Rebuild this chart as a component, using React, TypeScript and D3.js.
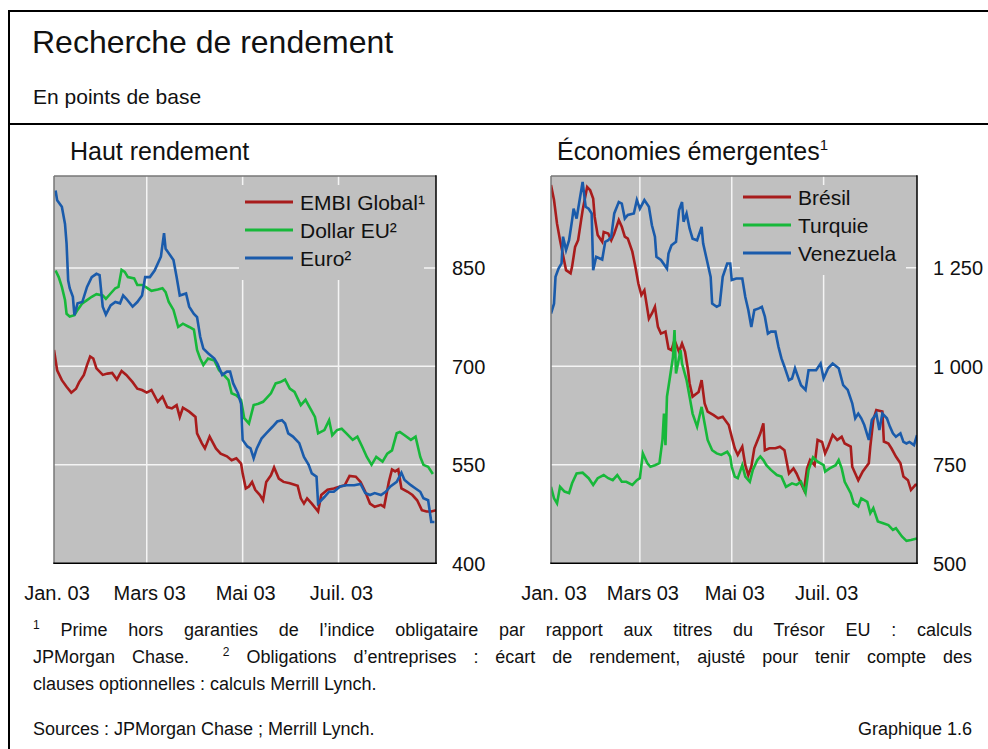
import { useEffect, useRef } from 'react';
import * as d3 from 'd3';

// [jours depuis le 1er janv. 2003, points de base]
type Pt = [number, number];

const embiGlobal: Pt[] = [
  [0, 725], [2, 694], [5, 679], [8, 669], [11, 660], [14, 666], [16, 676], [19, 687], [21, 702], [23, 715],
  [25, 712], [27, 697], [31, 687], [34, 689], [37, 690], [40, 680], [43, 693], [46, 687], [50, 676], [53, 666],
  [56, 664], [59, 660], [62, 664], [66, 646], [69, 654], [72, 638], [75, 636], [78, 641], [80, 623], [82, 637],
  [86, 631], [90, 623], [91, 598], [94, 583], [96, 575], [99, 593], [103, 575], [106, 567], [110, 563], [113, 557],
  [116, 560], [119, 552], [120, 537], [122, 514], [124, 517], [126, 524], [128, 512], [131, 504], [133, 496], [135, 524],
  [138, 534], [140, 546], [143, 529], [146, 524], [150, 522], [155, 518], [157, 499], [159, 491], [161, 499], [164, 491],
  [168, 479], [170, 504], [174, 512], [178, 514], [182, 517], [185, 519], [188, 533], [192, 532], [195, 524], [198, 509],
  [201, 491], [204, 486], [208, 489], [210, 486], [213, 524], [215, 543], [217, 540], [219, 543], [221, 514], [225, 509],
  [228, 504], [231, 496], [234, 481], [237, 479], [240, 479], [243, 481],
];

const dollarEU: Pt[] = [
  [1, 846], [3, 836], [5, 821], [7, 801], [8, 780], [10, 776], [13, 778], [15, 786], [18, 796], [21, 801],
  [24, 806], [27, 810], [31, 808], [33, 803], [36, 811], [39, 819], [41, 821], [43, 847], [45, 844], [47, 836],
  [51, 834], [53, 824], [56, 824], [59, 820], [62, 815], [66, 817], [69, 819], [71, 813], [73, 798], [76, 786],
  [79, 760], [82, 765], [86, 760], [89, 756], [91, 725], [93, 712], [95, 702], [98, 712], [102, 709], [105, 694],
  [108, 687], [111, 679], [113, 659], [116, 656], [119, 649], [121, 621], [124, 613], [127, 641], [130, 643], [133, 646],
  [138, 659], [141, 674], [144, 676], [147, 680], [150, 666], [153, 661], [157, 641], [160, 649], [163, 636], [166, 623],
  [168, 598], [172, 603], [175, 618], [177, 595], [180, 603], [183, 605], [186, 598], [190, 588], [193, 593], [196, 578],
  [199, 562], [202, 550], [205, 562], [209, 555], [212, 567], [215, 572], [218, 598], [220, 600], [223, 595], [227, 588],
  [230, 593], [233, 562], [235, 550], [238, 547], [241, 536],
];

const euro: Pt[] = [
  [1, 968], [2, 953], [5, 943], [7, 917], [8, 887], [9, 831], [10, 819], [12, 806], [13, 778], [15, 796],
  [18, 798], [21, 821], [24, 836], [27, 841], [29, 839], [31, 791], [33, 779], [36, 793], [39, 798], [42, 796],
  [44, 808], [46, 803], [50, 791], [53, 798], [56, 808], [58, 836], [61, 836], [64, 846], [68, 867], [70, 903],
  [71, 879], [74, 869], [76, 862], [78, 836], [80, 808], [84, 811], [86, 791], [89, 780], [91, 775], [93, 745],
  [95, 727], [98, 720], [102, 712], [104, 704], [107, 687], [110, 692], [112, 692], [114, 674], [117, 659], [119, 643],
  [120, 588], [123, 578], [125, 575], [127, 560], [129, 575], [132, 590], [135, 598], [139, 608], [142, 616], [145, 618],
  [147, 613], [149, 598], [152, 593], [156, 583], [159, 562], [162, 550], [164, 537], [167, 532], [168, 491], [172, 501],
  [175, 509], [178, 509], [182, 517], [186, 519], [191, 519], [195, 521], [198, 507], [201, 504], [204, 507], [208, 504],
  [211, 509], [214, 517], [218, 524], [221, 538], [223, 527], [227, 519], [230, 514], [233, 509], [235, 499], [238, 496],
  [240, 463], [242, 463],
];

const bresil: Pt[] = [
  [0, 1460], [2, 1422], [4, 1362], [6, 1320], [8, 1282], [10, 1244], [13, 1236], [14, 1253], [16, 1303], [18, 1320],
  [20, 1371], [21, 1396], [24, 1455], [26, 1447], [28, 1426], [29, 1379], [31, 1333], [34, 1316], [35, 1341], [38, 1337],
  [40, 1320], [42, 1337], [45, 1371], [47, 1354], [49, 1329], [51, 1324], [54, 1291], [56, 1253], [58, 1210], [60, 1181],
  [62, 1193], [65, 1121], [67, 1134], [69, 1151], [71, 1100], [73, 1083], [76, 1088], [78, 1045], [80, 1041], [82, 1066],
  [85, 1037], [87, 1058], [89, 1037], [91, 990], [92, 957], [94, 923], [98, 935], [100, 965], [102, 906], [104, 885],
  [108, 876], [111, 868], [114, 872], [118, 851], [120, 821], [122, 792], [124, 775], [127, 796], [129, 749], [131, 724],
  [133, 745], [135, 792], [139, 830], [141, 855], [142, 787], [145, 792], [149, 792], [152, 796], [155, 787], [158, 728],
  [161, 741], [163, 728], [165, 711], [168, 686], [170, 741], [172, 762], [175, 749], [177, 813], [180, 808], [182, 779],
  [184, 796], [187, 826], [190, 813], [193, 821], [195, 804], [199, 796], [200, 745], [202, 728], [204, 711], [207, 733],
  [211, 754], [212, 796], [214, 864], [216, 889], [220, 885], [221, 809], [224, 804], [226, 792], [229, 771], [232, 754],
  [234, 720], [237, 711], [239, 686], [242, 699], [243, 699],
];

const turquie: Pt[] = [
  [0, 694], [2, 665], [4, 652], [6, 694], [9, 682], [12, 678], [14, 703], [17, 728], [21, 730], [25, 716],
  [28, 699], [31, 716], [35, 724], [38, 716], [41, 711], [44, 724], [47, 707], [50, 707], [54, 699], [57, 711],
  [59, 716], [61, 779], [64, 754], [66, 745], [69, 749], [72, 754], [74, 813], [75, 880], [76, 800], [77, 923],
  [79, 973], [81, 1024], [82, 1092], [83, 982], [86, 1041], [87, 1007], [90, 965], [92, 923], [94, 880], [97, 847],
  [99, 880], [100, 897], [102, 855], [104, 813], [107, 787], [110, 779], [113, 775], [117, 783], [119, 771], [120, 745],
  [122, 720], [124, 716], [127, 749], [129, 720], [132, 707], [134, 737], [137, 762], [139, 771], [141, 762], [143, 749],
  [146, 737], [150, 724], [153, 720], [156, 694], [160, 703], [163, 699], [166, 707], [169, 679], [171, 737], [174, 769],
  [177, 758], [181, 749], [182, 733], [185, 741], [189, 749], [191, 762], [193, 741], [195, 707], [199, 678], [201, 652],
  [204, 644], [206, 665], [210, 656], [212, 627], [214, 640], [217, 606], [221, 601], [224, 597], [227, 585], [229, 589],
  [233, 568], [236, 557], [239, 559], [243, 563],
];

const venezuela: Pt[] = [
  [0, 1134], [2, 1159], [3, 1227], [5, 1248], [7, 1261], [8, 1329], [10, 1295], [12, 1320], [14, 1371], [15, 1400],
  [17, 1375], [19, 1422], [21, 1468], [23, 1405], [25, 1400], [27, 1388], [28, 1244], [30, 1278], [34, 1271], [36, 1316],
  [38, 1320], [40, 1329], [42, 1388], [45, 1417], [47, 1413], [49, 1375], [51, 1384], [55, 1388], [57, 1422], [59, 1400],
  [62, 1422], [65, 1405], [67, 1358], [69, 1329], [70, 1278], [73, 1270], [77, 1248], [78, 1286], [80, 1307], [83, 1316],
  [85, 1396], [87, 1417], [88, 1367], [90, 1388], [92, 1350], [94, 1324], [97, 1320], [100, 1354], [101, 1312], [103, 1278],
  [106, 1227], [107, 1159], [110, 1151], [112, 1155], [114, 1227], [117, 1261], [119, 1261], [120, 1219], [123, 1223], [127, 1223],
  [129, 1176], [131, 1143], [133, 1100], [135, 1143], [138, 1147], [140, 1151], [142, 1126], [144, 1083], [146, 1088], [149, 1088],
  [151, 1050], [153, 1020], [155, 999], [158, 965], [160, 969], [162, 995], [164, 973], [166, 952], [169, 940], [171, 990],
  [174, 990], [176, 990], [179, 1007], [181, 969], [184, 995], [187, 1007], [191, 995], [194, 952], [197, 940], [200, 906],
  [202, 868], [204, 880], [206, 868], [208, 851], [211, 813], [213, 864], [216, 880], [218, 838], [220, 880], [223, 868],
  [225, 847], [227, 830], [229, 821], [232, 830], [234, 808], [236, 804], [238, 808], [241, 800], [243, 825],
];

const monthTicks = [0, 59, 120, 181];
const monthLabels = ['Jan. 03', 'Mars 03', 'Mai 03', 'Juil. 03'];
const leftTicks = [400, 550, 700, 850];
const rightTicks = [500, 750, 1000, 1250];

const RED = '#a81c1c';
const GREEN = '#17b83a';
const BLUE = '#1a5bab';
const FONT = '"Liberation Sans", Arial, Helvetica, sans-serif';

const start = new Date(2003, 0, 1);
const end = new Date(2003, 8, 1);
const toDate = (day: number) => d3.timeDay.offset(start, day);

const frLocale = d3.formatLocale({ decimal: ',', thousands: '\u00a0', grouping: [3], currency: ['', ''] });
const fmtPts = frLocale.format(',');

interface Series {
  name: string;
  data: Pt[];
  color: string;
}

interface PanelProps {
  id: string;
  x0: number;
  x1: number;
  y0: number;
  y1: number;
  yDomain: [number, number];
  ticks: number[];
  series: Series[];
  legend: { x: number; y: number; w: number; h: number; first: number; pad: number };
}

const Panel = ({ id, x0, x1, y0, y1, yDomain, ticks, series, legend }: PanelProps) => {
  const x = d3.scaleTime().domain([start, end]).range([x0, x1]);
  const y = d3.scaleLinear().domain(yDomain).range([y1, y0]);
  const line = d3.line<Pt>()
    .x(d => x(toDate(d[0])))
    .y(d => y(d[1]));

  return (
    <g>
      <defs>
        <clipPath id={id}>
          <rect x={x0} y={y0} width={x1 - x0} height={y1 - y0} />
        </clipPath>
      </defs>
      <rect x={x0} y={y0} width={x1 - x0} height={y1 - y0} fill="#c0c0c0" />

      {/* grille */}
      {ticks.slice(1).map(t => (
        <line key={t} x1={x0} x2={x1} y1={y(t)} y2={y(t)} stroke="#f4f4f4" strokeWidth={1.5} />
      ))}
      {monthTicks.slice(1).map(m => (
        <line key={m} x1={x(toDate(m))} x2={x(toDate(m))} y1={y0} y2={y1} stroke="#f4f4f4" strokeWidth={1.5} />
      ))}

      {/* légende */}
      <rect x={legend.x} y={legend.y} width={legend.w} height={legend.h} fill="#c0c0c0" />
      {series.map((s, i) => {
        const ly = legend.y + legend.first + i * 28;
        return (
          <g key={s.name}>
            <line x1={legend.x + legend.pad} x2={legend.x + legend.pad + 48} y1={ly} y2={ly}
              stroke={s.color} strokeWidth={3} />
            <text x={legend.x + legend.pad + 55} y={ly} dy="0.36em" fontSize={21} fill="#111">{s.name}</text>
          </g>
        );
      })}

      <g clipPath={`url(#${id})`}>
        {series.map(s => (
          <path key={s.name} d={line(s.data) ?? ''} fill="none" stroke={s.color} strokeWidth={2.6}
            strokeLinejoin="miter" />
        ))}
      </g>

      {/* cadre */}
      <line x1={x0} x2={x1} y1={y0} y2={y0} stroke="#777" strokeWidth={1.5} />
      <line x1={x0} x2={x0} y1={y0} y2={y1} stroke="#777" strokeWidth={1.5} />
      <line x1={x1} x2={x1} y1={y0 - 0.75} y2={y1 + 0.75} stroke="#000" strokeWidth={1.5} />
      <line x1={x0 - 0.75} x2={x1 + 0.75} y1={y1} y2={y1} stroke="#000" strokeWidth={1.5} />

      {/* axes */}
      {ticks.map(t => (
        <text key={t} x={x1 + 16} y={y(t)} dy="0.36em" fontSize={20} fill="#111">{fmtPts(t)}</text>
      ))}
      {monthTicks.map((m, i) => (
        <text key={m} x={x(toDate(m)) + 3} y={600} fontSize={20} textAnchor="middle" fill="#111">
          {monthLabels[i]}
        </text>
      ))}
    </g>
  );
};

const noteWidth = 939;

const App = () => {
  const noteRefs = useRef<(SVGTextElement | null)[]>([]);

  // justification des notes
  useEffect(() => {
    noteRefs.current.forEach(el => {
      if (!el) return;
      el.setAttribute('word-spacing', '0');
      const natural = el.getComputedTextLength();
      const spaces = (el.textContent || '').split(' ').length - 1;
      if (spaces > 0) el.setAttribute('word-spacing', String((noteWidth - natural) / spaces));
    });
  }, []);

  return (
    <svg width={988} height={749} style={{ position: 'absolute', left: 0, top: 0, background: '#fff' }}
      fontFamily={FONT}>
      <line x1={9} x2={988} y1={11} y2={11} stroke="#000" strokeWidth={2} />
      <line x1={9} x2={9} y1={10} y2={749} stroke="#000" strokeWidth={2} />
      <line x1={9} x2={988} y1={124} y2={124} stroke="#000" strokeWidth={2} />

      <text x={32} y={53} fontSize={32} fill="#111">Recherche de rendement</text>
      <text x={33} y={104} fontSize={21} fill="#111">En points de base</text>

      <text x={70} y={160} fontSize={25} fill="#111">Haut rendement</text>
      <text x={557} y={160} fontSize={25} fill="#111">
        Économies émergentes<tspan fontSize={15} dy={-10}>1</tspan>
      </text>

      <Panel
        id="clip-haut"
        x0={54} x1={436} y0={176} y1={563.3}
        yDomain={[400, 990]}
        ticks={leftTicks}
        series={[
          { name: 'EMBI Global¹', data: embiGlobal, color: RED },
          { name: 'Dollar EU²', data: dollarEU, color: GREEN },
          { name: 'Euro²', data: euro, color: BLUE },
        ]}
        legend={{ x: 239, y: 185, w: 185, h: 95, first: 17, pad: 6 }}
      />
      <Panel
        id="clip-emerg"
        x0={551} x1={917} y0={176} y1={563.3}
        yDomain={[500, 1483]}
        ticks={rightTicks}
        series={[
          { name: 'Brésil', data: bresil, color: RED },
          { name: 'Turquie', data: turquie, color: GREEN },
          { name: 'Venezuela', data: venezuela, color: BLUE },
        ]}
        legend={{ x: 740, y: 185, w: 166, h: 90, first: 12, pad: 3 }}
      />

      <g fontSize={18} fill="#111">
        <text ref={el => { noteRefs.current[0] = el; }} x={33} y={636} style={{ whiteSpace: 'pre' }}>
          <tspan fontSize={12} dy={-7}>1</tspan>
          <tspan dy={7}> Prime hors garanties de l’indice obligataire par rapport aux titres du Trésor EU : calculs</tspan>
        </text>
        <text ref={el => { noteRefs.current[1] = el; }} x={33} y={663} style={{ whiteSpace: 'pre' }}>
          <tspan>JPMorgan Chase.  </tspan>
          <tspan fontSize={12} dy={-7}>2</tspan>
          <tspan dy={7}> Obligations d’entreprises : écart de rendement, ajusté pour tenir compte des</tspan>
        </text>
        <text x={33} y={690}>clauses optionnelles : calculs Merrill Lynch.</text>
        <text x={33} y={735}>Sources : JPMorgan Chase ; Merrill Lynch.</text>
        <text x={972} y={735} textAnchor="end">Graphique 1.6</text>
      </g>
    </svg>
  );
};

export default App;
